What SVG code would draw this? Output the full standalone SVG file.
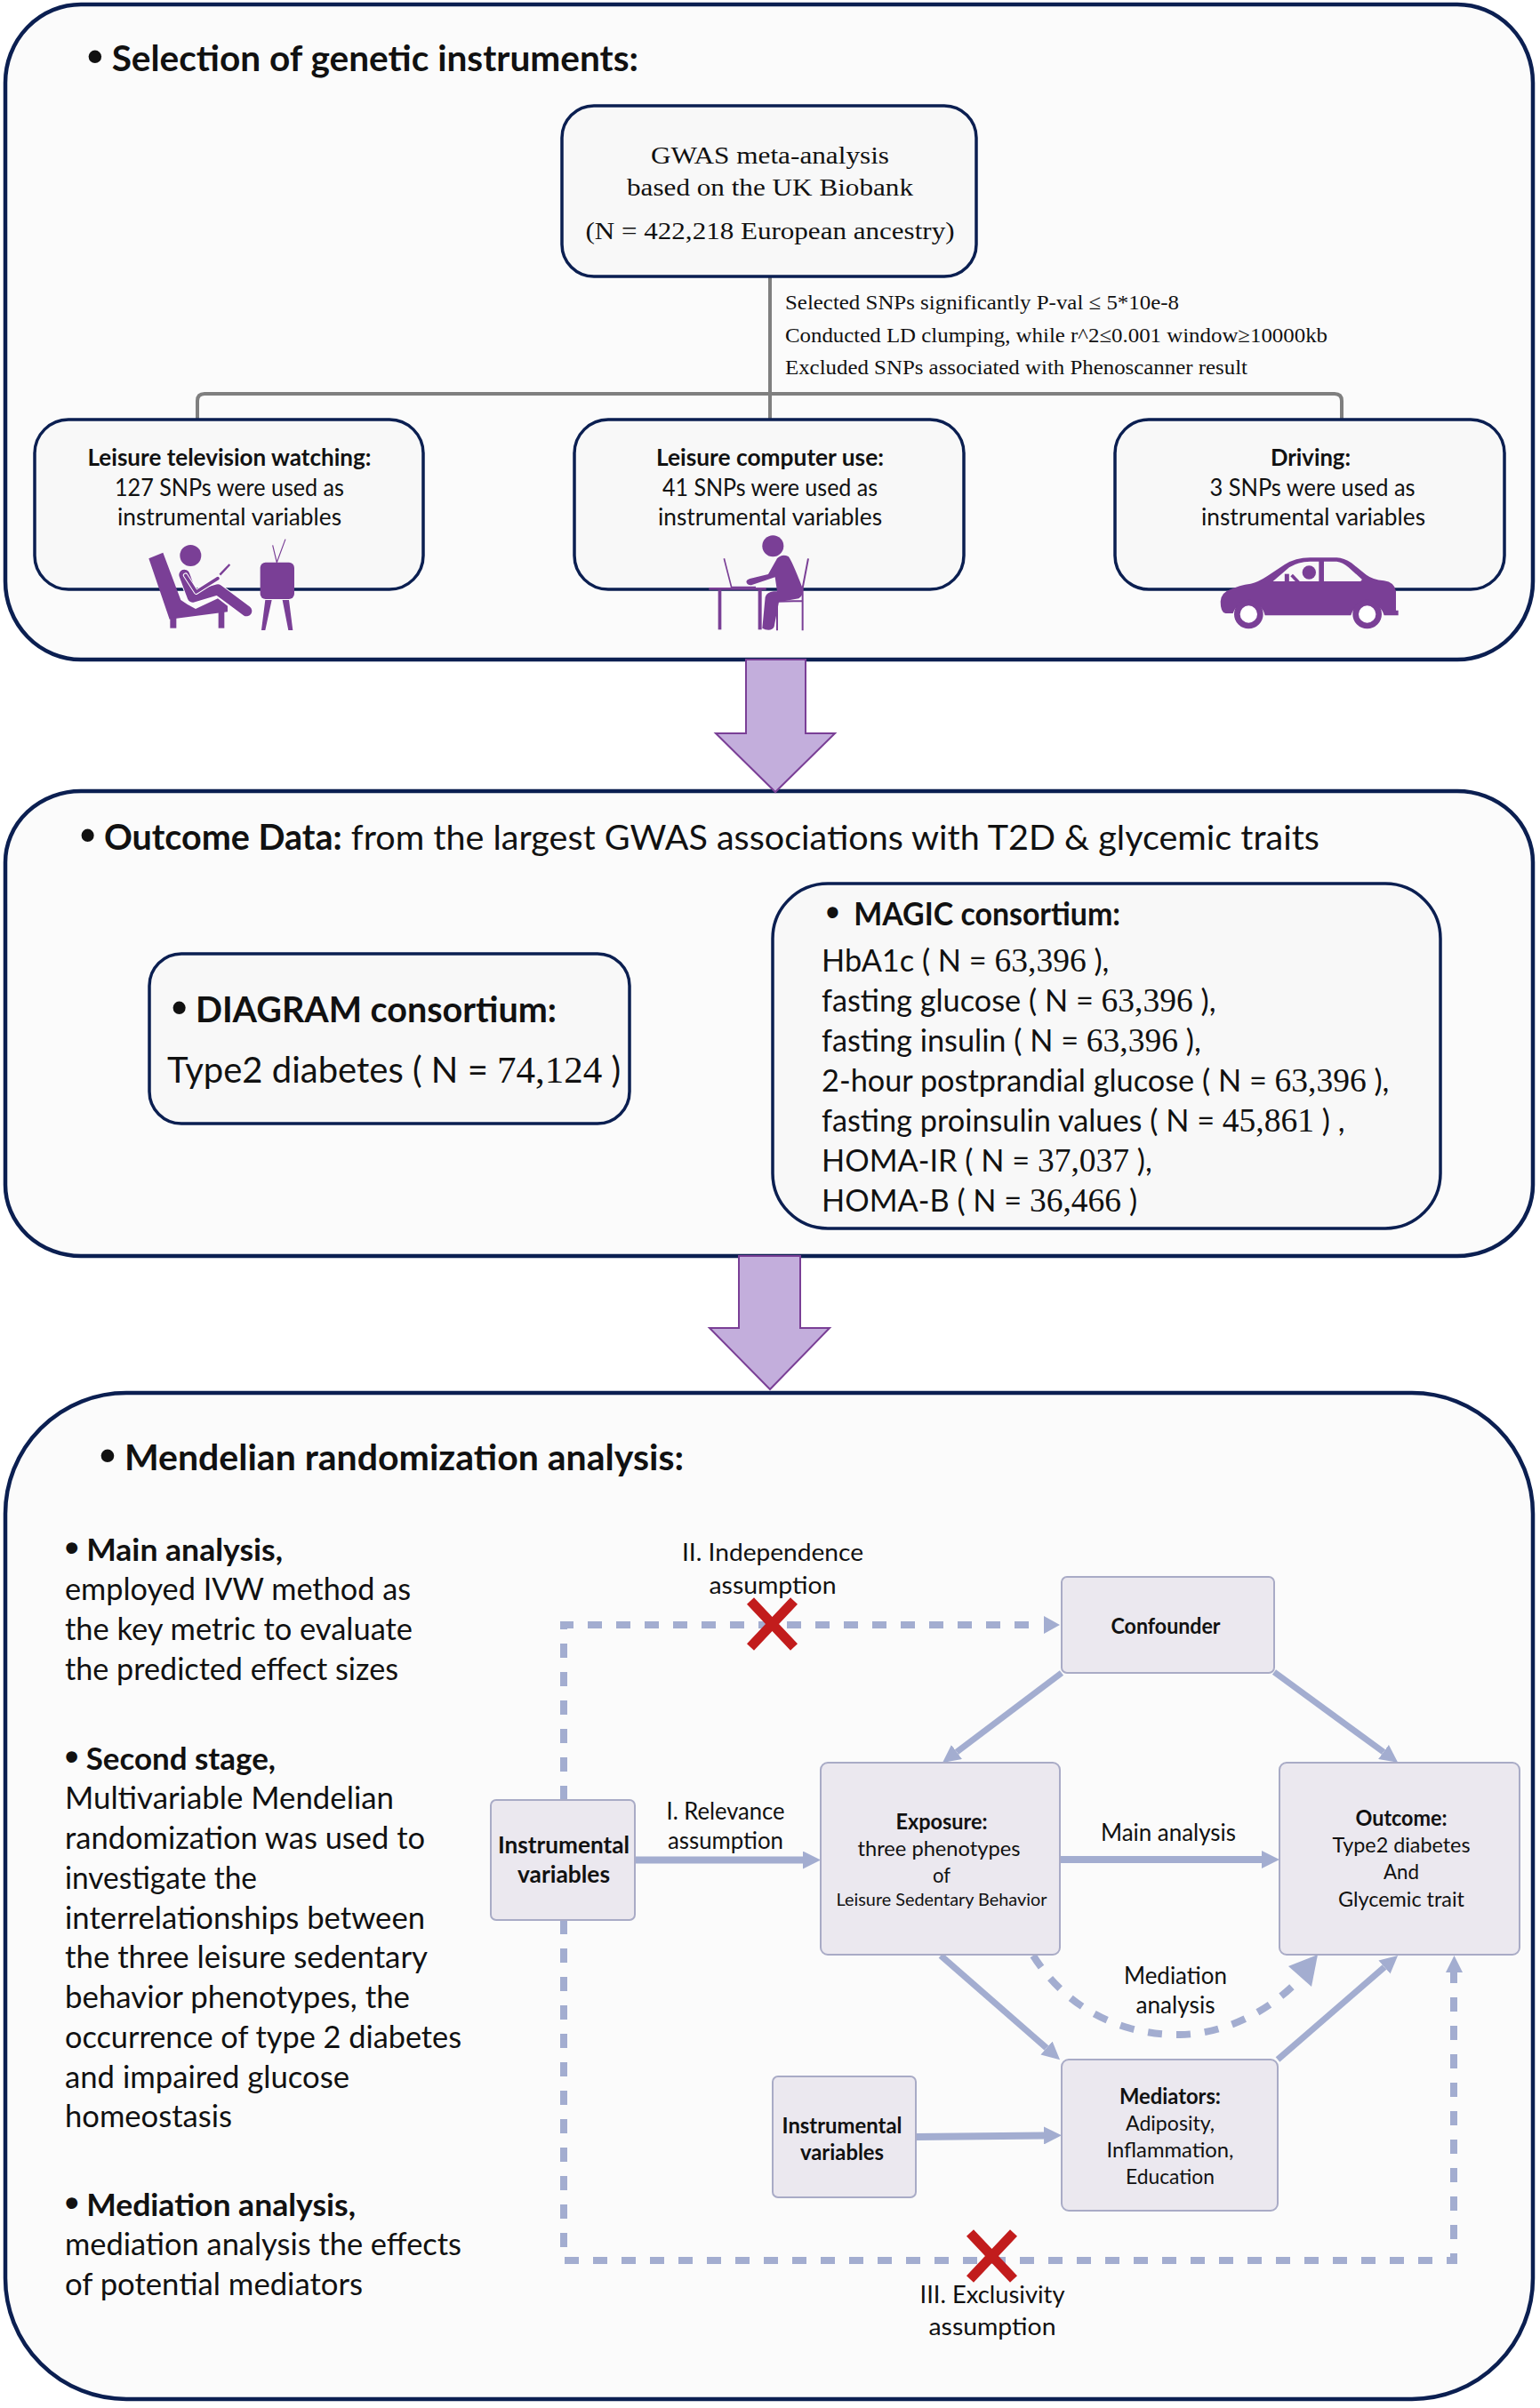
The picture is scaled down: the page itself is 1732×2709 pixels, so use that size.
<svg xmlns="http://www.w3.org/2000/svg" width="1732" height="2709" viewBox="0 0 1732 2709">
<style>
text{font-family:"Lato","Carlito","Open Sans",sans-serif;fill:#111}
.serif,.serif tspan{font-family:"Liberation Serif","Times New Roman",serif}
.d{font-family:"Liberation Serif","Times New Roman",serif;font-size:37.500px}
.d2{font-family:"Liberation Serif","Times New Roman",serif;font-size:43px}
.bu{font-family:"Liberation Sans",Arial,sans-serif;font-size:1.25em}
.m{text-anchor:middle}
.b{font-weight:700}
.panel{fill:#fbfbfb;stroke:#0b1f51;stroke-width:4.5}
.box{fill:#f8f8f8;stroke:#0b1f51;stroke-width:3.5}
.node{fill:#ebe8ef;stroke:#a9abc6;stroke-width:2}
.big{fill:#c3aedc;stroke:#7a3f96;stroke-width:2}
.pur{fill:#7a3f96}
.pl{stroke:#7a3f96;fill:none}
.trunk{fill:none;stroke:#7f7f7f;stroke-width:4}
.con{fill:none;stroke:#a3add0;stroke-width:8}
.thin{fill:none;stroke:#a3add0;stroke-width:7}
.dash{fill:none;stroke:#a3add0;stroke-width:8;stroke-dasharray:16 16}
.cross{stroke:#c21c1c;stroke-width:11;fill:none}
.t40{font-size:40px}.t36{font-size:36px}.t35{font-size:34.300px}.t34{font-size:35px}.t24{font-size:24px}.t26{font-size:26px}.t28{font-size:28px}.t20{font-size:20px}
</style>
<defs>
<marker id="ah" markerUnits="userSpaceOnUse" markerWidth="22" markerHeight="20" refX="0" refY="10" orient="auto"><path d="M0,0L20,10L0,20Z" fill="#a3add0"/></marker>
</defs>
<rect width="1732" height="2709" fill="#fff"/>
<g id="panel-selection">
<rect class="panel" x="6" y="5" width="1718" height="737" rx="85" ry="88"/>
<text class="t40 b" x="98" y="80" textLength="620" lengthAdjust="spacingAndGlyphs"><tspan class="bu">•</tspan> Selection of genetic instruments:</text>
</g>
<g id="panel-outcome">
<rect class="panel" x="6" y="890" width="1718" height="523" rx="85" ry="80"/>
<text x="90" y="956" style="font-size:39.500px"><tspan class="b"><tspan class="bu">•</tspan> Outcome Data:</tspan> from the largest GWAS associations with T2D &amp; glycemic traits</text>
</g>
<g id="panel-mr">
<rect class="panel" x="6" y="1567" width="1718" height="1132" rx="136" ry="136"/>
<text class="t40 b" x="112" y="1654" textLength="657" lengthAdjust="spacingAndGlyphs"><tspan class="bu">•</tspan> Mendelian randomization analysis:</text>
<text class="t34 b" x="73" y="1756" textLength="245" lengthAdjust="spacingAndGlyphs"><tspan class="bu">•</tspan> Main analysis,</text>
<text class="t34" x="73" y="1800" textLength="389" lengthAdjust="spacingAndGlyphs">employed IVW method as</text>
<text class="t34" x="73" y="1845" textLength="391" lengthAdjust="spacingAndGlyphs">the key metric to evaluate</text>
<text class="t34" x="73" y="1890" textLength="375" lengthAdjust="spacingAndGlyphs">the predicted effect sizes</text>
<text class="t34 b" x="73" y="1991" textLength="237" lengthAdjust="spacingAndGlyphs"><tspan class="bu">•</tspan> Second stage,</text>
<text class="t34" x="73" y="2035" textLength="370" lengthAdjust="spacingAndGlyphs">Multivariable Mendelian</text>
<text class="t34" x="73" y="2080" textLength="405" lengthAdjust="spacingAndGlyphs">randomization was used to</text>
<text class="t34" x="73" y="2125" textLength="216" lengthAdjust="spacingAndGlyphs">investigate the</text>
<text class="t34" x="73" y="2170" textLength="405" lengthAdjust="spacingAndGlyphs">interrelationships between</text>
<text class="t34" x="73" y="2214" textLength="408" lengthAdjust="spacingAndGlyphs">the three leisure sedentary</text>
<text class="t34" x="73" y="2259" textLength="388" lengthAdjust="spacingAndGlyphs">behavior phenotypes, the</text>
<text class="t34" x="73" y="2304" textLength="446" lengthAdjust="spacingAndGlyphs">occurrence of type 2 diabetes</text>
<text class="t34" x="73" y="2349" textLength="320" lengthAdjust="spacingAndGlyphs">and impaired glucose</text>
<text class="t34" x="73" y="2393" textLength="188" lengthAdjust="spacingAndGlyphs">homeostasis</text>
<text class="t34 b" x="73" y="2493" textLength="327" lengthAdjust="spacingAndGlyphs"><tspan class="bu">•</tspan> Mediation analysis,</text>
<text class="t34" x="73" y="2537" textLength="446" lengthAdjust="spacingAndGlyphs">mediation analysis the effects</text>
<text class="t34" x="73" y="2582" textLength="335" lengthAdjust="spacingAndGlyphs">of potential mediators</text>
</g>
<g id="connectors">
<path class="trunk" d="M866,311V443M222,472V451Q222,443 230,443H1501Q1509,443 1509,451V472M866,443V472"/>
<path class="big" d="M839,742H906V825H939L872,891L805,825H839Z"/>
<path class="big" d="M831,1413H900V1494H933L866,1563L798,1494H831Z"/>
<path class="con" marker-end="url(#ah)" d="M714,2092.500H903"/>
<path class="con" marker-end="url(#ah)" d="M1192,2092H1419"/>
<path class="con" marker-end="url(#ah)" d="M1030,2404L1174,2402.500"/>
<path class="thin" marker-end="url(#ah)" d="M1194,1882L1076,1971"/>
<path class="thin" marker-end="url(#ah)" d="M1433,1881L1556,1971"/>
<path class="thin" marker-end="url(#ah)" d="M1058,2200L1177,2304"/>
<path class="thin" marker-end="url(#ah)" d="M1437,2317L1557,2213"/>
<path class="dash" d="M634,2025V1828H1172"/>
<path d="M1174,1818L1192,1828L1174,1838Z" fill="#a3add0"/>
<path class="dash" d="M634,2160V2543H1635V2219"/>
<path d="M1626,2219H1645L1635.500,2200Z" fill="#a3add0"/>
<path class="dash" d="M1162,2200C1206,2270 1276,2290 1327,2289C1386,2288 1436,2255 1464,2224"/>
<path d="M1482,2199L1475,2235L1449,2212Z" fill="#a3add0"/>
<path class="cross" d="M844,1801L893,1853M893,1801L844,1853"/>
<path class="cross" d="M1091,2512L1140,2564M1140,2512L1091,2564"/>
</g>
<g id="node-gwas">
<rect class="box" x="632" y="119" width="466" height="192" rx="36"/>
<text class="serif m t28" x="866" y="184" textLength="268" lengthAdjust="spacingAndGlyphs">GWAS meta-analysis</text>
<text class="serif m t28" x="866" y="220" textLength="322" lengthAdjust="spacingAndGlyphs">based on the UK Biobank</text>
<text class="serif m t28" x="866" y="269" textLength="415" lengthAdjust="spacingAndGlyphs">(N = 422,218 European ancestry)</text>
</g>
<g id="notes">
<text class="serif t24" x="883" y="348" textLength="443" lengthAdjust="spacingAndGlyphs">Selected SNPs significantly P-val ≤ 5*10e-8</text>
<text class="serif t24" x="883" y="385" textLength="610" lengthAdjust="spacingAndGlyphs">Conducted LD clumping, while r^2≤0.001 window≥10000kb</text>
<text class="serif t24" x="883" y="421" textLength="520" lengthAdjust="spacingAndGlyphs">Excluded SNPs associated with Phenoscanner result</text>
</g>
<g id="node-tv">
<rect class="box" x="39" y="472" width="437" height="191" rx="38"/>
<text class="m t26 b" x="258" y="524" textLength="319" lengthAdjust="spacingAndGlyphs">Leisure television watching:</text>
<text class="m t26" x="258" y="558" textLength="258" lengthAdjust="spacingAndGlyphs">127 SNPs were used as</text>
<text class="m t26" x="258" y="591" textLength="252" lengthAdjust="spacingAndGlyphs">instrumental variables</text>
<g transform="translate(150 600) scale(.3333)">
<path class="pur" d="M52,85L100,65L160,225Q180,240 210,255L285,220L318,245V265L122,290Z"/>
<rect class="pur" x="124" y="285" width="21" height="35"/><rect class="pur" x="287" y="262" width="20" height="58"/>
<circle class="pur" cx="193" cy="75" r="36"/>
<path d="M172,140L200,215L285,190L382,262" fill="none" stroke="#fff" stroke-width="42" stroke-linecap="round" stroke-linejoin="round"/>
<path class="pl" d="M172,140L200,215L285,190L382,262" stroke-width="36" stroke-linecap="round" stroke-linejoin="round"/>
<path d="M176,142L212,198L285,152" fill="none" stroke="#fff" stroke-width="17" stroke-linecap="round" stroke-linejoin="round"/>
<path class="pl" d="M176,142L212,198L285,152" stroke-width="11" stroke-linecap="round" stroke-linejoin="round"/>
<path class="pl" d="M292,140L325,105" stroke-width="7"/>
<rect class="pur" x="428" y="98" width="115" height="124" rx="18"/>
<path class="pl" d="M470,40L484,98L513,20" stroke-width="3.500"/>
<path class="pur" d="M445,225H467L445,327H432ZM503,225H525L538,327H523Z"/>
</g>
</g>
<g id="node-computer">
<rect class="box" x="646" y="472" width="438" height="191" rx="38"/>
<text class="m t26 b" x="866" y="524" textLength="256" lengthAdjust="spacingAndGlyphs">Leisure computer use:</text>
<text class="m t26" x="866" y="558" textLength="242" lengthAdjust="spacingAndGlyphs">41 SNPs were used as</text>
<text class="m t26" x="866" y="591" textLength="252" lengthAdjust="spacingAndGlyphs">instrumental variables</text>
<g transform="translate(790 590) scale(.3333)">
<circle class="pur" cx="238" cy="73" r="36"/>
<path class="pur" d="M148,192Q150,186 160,183L222,168L252,115Q268,98 290,108Q300,118 338,215Q342,240 325,250L258,262L242,345Q235,360 212,355L202,350L212,245Q218,228 240,226L252,226L245,178L165,205Q150,206 148,192Z"/>
<path class="pl" d="M73,115L98,212L180,212" stroke-width="5"/>
<rect class="pur" x="22" y="213" width="193" height="8"/>
<rect class="pur" x="53" y="221" width="11" height="134"/><rect class="pur" x="188" y="221" width="12" height="134"/>
<path class="pl" d="M357,115L338,215V358M252,262V358M252,260L336,258" stroke-width="6"/>
</g>
</g>
<g id="node-driving">
<rect class="box" x="1254" y="472" width="438" height="191" rx="38"/>
<text class="m t26 b" x="1474" y="524" textLength="90" lengthAdjust="spacingAndGlyphs">Driving:</text>
<text class="m t26" x="1476" y="558" textLength="231" lengthAdjust="spacingAndGlyphs">3 SNPs were used as</text>
<text class="m t26" x="1477" y="591" textLength="252" lengthAdjust="spacingAndGlyphs">instrumental variables</text>
<g transform="translate(1360 615) scale(.3333)">
<path class="pur" d="M38,185Q40,155 70,145Q100,130 140,125Q165,120 195,100L255,60Q290,38 340,37L430,37Q455,38 480,55L530,95Q550,110 590,115Q625,120 630,150V215H638V232H590A58,58 0 0 0 478,232H188A56,56 0 0 0 80,225H55Q38,222 38,185Z"/>
<path d="M387,50H430Q450,52 470,70L515,110Q515,117 505,117H387ZM370,50H340Q300,50 270,70L215,117H370Z" fill="#f8f8f8"/>
<circle class="pur" cx="337" cy="87" r="23"/>
<path class="pl" d="M262,92V118" stroke-width="15"/><path class="pl" d="M278,96L303,122" stroke-width="11"/>
<circle cx="533" cy="228" r="39" fill="#fff" stroke="#7a3f96" stroke-width="20"/>
<circle cx="133" cy="228" r="39" fill="#fff" stroke="#7a3f96" stroke-width="20"/>
</g>
</g>
<g id="node-diagram">
<rect class="box" x="168" y="1073" width="540" height="191" rx="36"/>
<text class="t40 b" x="193" y="1150" textLength="433" lengthAdjust="spacingAndGlyphs"><tspan class="bu">•</tspan> DIAGRAM consortium:</text>
<text class="t40" x="188" y="1218">Type2 diabetes ( N = <tspan class="d2">74,124</tspan> )</text>
</g>
<g id="node-magic">
<rect class="box" x="869" y="994" width="751" height="388" rx="62"/>
<text class="t36 b" x="929" y="1041" textLength="331" lengthAdjust="spacingAndGlyphs"><tspan class="bu">•</tspan>&#160; MAGIC consortium:</text>
<text class="t35" x="924" y="1093">HbA1c ( N = <tspan class="d">63,396</tspan> ),</text>
<text class="t35" x="924" y="1138">fasting glucose ( N = <tspan class="d">63,396</tspan> ),</text>
<text class="t35" x="924" y="1183">fasting insulin ( N = <tspan class="d">63,396</tspan> ),</text>
<text class="t35" x="924" y="1228">2-hour postprandial glucose ( N = <tspan class="d">63,396</tspan> ),</text>
<text class="t35" x="924" y="1273">fasting proinsulin values ( N = <tspan class="d">45,861</tspan> ) ,</text>
<text class="t35" x="924" y="1318">HOMA-IR ( N = <tspan class="d">37,037</tspan> ),</text>
<text class="t35" x="924" y="1363">HOMA-B ( N = <tspan class="d">36,466</tspan> )</text>
</g>
<g id="node-confounder">
<rect class="node" x="1194" y="1774" width="239" height="108" rx="6"/>
<text class="m t24 b" x="1311" y="1838" textLength="123" lengthAdjust="spacingAndGlyphs">Confounder</text>
</g>
<g id="node-exposure">
<rect class="node" x="923" y="1983" width="269" height="216" rx="8"/>
<text class="m t24 b" x="1059" y="2058" textLength="103" lengthAdjust="spacingAndGlyphs">Exposure:</text>
<text class="m t24" x="1056" y="2088" textLength="183" lengthAdjust="spacingAndGlyphs">three phenotypes</text>
<text class="m t24" x="1059" y="2118" textLength="20" lengthAdjust="spacingAndGlyphs">of</text>
<text class="m t20" x="1059" y="2144" textLength="237" lengthAdjust="spacingAndGlyphs">Leisure Sedentary Behavior</text>
</g>
<g id="node-outcome">
<rect class="node" x="1439" y="1983" width="270" height="216" rx="8"/>
<text class="m t24 b" x="1576" y="2054" textLength="103" lengthAdjust="spacingAndGlyphs">Outcome:</text>
<text class="m t24" x="1576" y="2084" textLength="155" lengthAdjust="spacingAndGlyphs">Type2 diabetes</text>
<text class="m t24" x="1576" y="2114" textLength="40" lengthAdjust="spacingAndGlyphs">And</text>
<text class="m t24" x="1576" y="2145" textLength="142" lengthAdjust="spacingAndGlyphs">Glycemic trait</text>
</g>
<g id="node-iv1">
<rect class="node" x="552" y="2025" width="162" height="135" rx="6"/>
<text class="m t26 b" x="634" y="2085" textLength="148" lengthAdjust="spacingAndGlyphs">Instrumental</text>
<text class="m t26 b" x="634" y="2118" textLength="104" lengthAdjust="spacingAndGlyphs">variables</text>
</g>
<g id="node-iv2">
<rect class="node" x="869" y="2336" width="161" height="136" rx="6"/>
<text class="m t24 b" x="947" y="2400" textLength="135" lengthAdjust="spacingAndGlyphs">Instrumental</text>
<text class="m t24 b" x="947" y="2430" textLength="94" lengthAdjust="spacingAndGlyphs">variables</text>
</g>
<g id="node-mediators">
<rect class="node" x="1194" y="2317" width="243" height="170" rx="8"/>
<text class="m t24 b" x="1316" y="2367" textLength="114" lengthAdjust="spacingAndGlyphs">Mediators:</text>
<text class="m t24" x="1316" y="2397" textLength="100" lengthAdjust="spacingAndGlyphs">Adiposity,</text>
<text class="m t24" x="1316" y="2427" textLength="143" lengthAdjust="spacingAndGlyphs">Inflammation,</text>
<text class="m t24" x="1316" y="2457" textLength="100" lengthAdjust="spacingAndGlyphs">Education</text>
</g>
<g id="labels">
<text class="m t26" x="869" y="1756" textLength="204" lengthAdjust="spacingAndGlyphs">II. Independence</text>
<text class="m t26" x="869" y="1793" textLength="143" lengthAdjust="spacingAndGlyphs">assumption</text>
<text class="m t26" x="816" y="2047" textLength="133" lengthAdjust="spacingAndGlyphs">I. Relevance</text>
<text class="m t26" x="816" y="2080" textLength="130" lengthAdjust="spacingAndGlyphs">assumption</text>
<text class="m t26" x="1314" y="2071" textLength="152" lengthAdjust="spacingAndGlyphs">Main analysis</text>
<text class="m t26" x="1322" y="2232" textLength="116" lengthAdjust="spacingAndGlyphs">Mediation</text>
<text class="m t26" x="1322" y="2265" textLength="89" lengthAdjust="spacingAndGlyphs">analysis</text>
<text class="m t26" x="1116" y="2591" textLength="163" lengthAdjust="spacingAndGlyphs">III. Exclusivity</text>
<text class="m t26" x="1116" y="2627" textLength="143" lengthAdjust="spacingAndGlyphs">assumption</text>
</g>
</svg>
